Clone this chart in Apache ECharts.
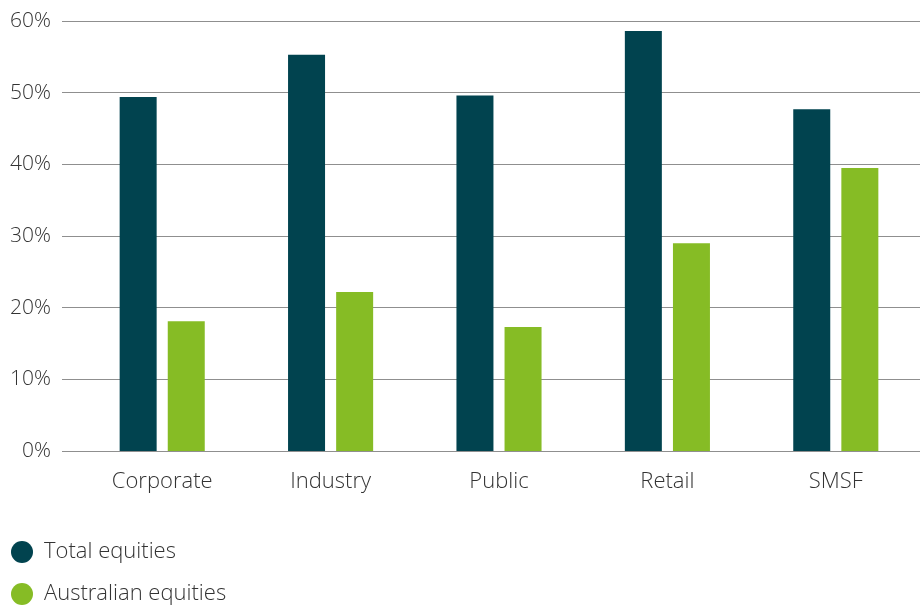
<!DOCTYPE html>
<html>
<head>
<meta charset="utf-8">
<script src="https://cdn.jsdelivr.net/npm/echarts@6/dist/echarts.min.js"></script>
<style>
html,body{margin:0;padding:0;background:#fff;}
#chart{width:920px;height:605px;}
</style>
</head>
<body>
<div id="chart"></div>
<script>
const categories = ['Corporate', 'Industry', 'Public', 'Retail', 'SMSF'];
const totalEquities = [49.4, 55.3, 49.6, 58.6, 47.7];
const australianEquities = [18.1, 22.2, 17.3, 29.0, 39.5];
const seriesNames = ['Total equities', 'Australian equities'];
const yMin = 0, yMax = 60, yStep = 10;

const font = '"Open Sans", "Noto Sans", sans-serif';
const textColor = '#333333';
const legendBase = {
  orient: 'vertical',
  left: 6,
  itemWidth: 22,
  itemHeight: 22,
  icon: 'circle',
  textStyle: { fontFamily: font, fontSize: 22, color: textColor, fontWeight: 300, padding: [0, 0, 0, 6] }
};
const chart = echarts.init(document.getElementById('chart'));
chart.setOption({
  animation: false,
  backgroundColor: '#ffffff',
  textStyle: { fontFamily: font },
  grid: [
    { left: 62, width: 858, top: 21, bottom: 154, containLabel: false },
    { left: 78, width: 843, top: 21, bottom: 154, containLabel: false }
  ],
  legend: [
    Object.assign({}, legendBase, { top: 536, data: [seriesNames[0]] }),
    Object.assign({}, legendBase, { top: 578, data: [seriesNames[1]] })
  ],
  xAxis: [
    { type: 'category', gridIndex: 0, data: categories, show: false },
    {
      type: 'category', gridIndex: 1, data: categories,
      axisLine: { show: false }, axisTick: { show: false },
      axisLabel: { margin: 20, fontSize: 22, color: textColor, fontFamily: font, fontWeight: 300 }
    }
  ],
  yAxis: [
    {
      type: 'value', gridIndex: 0, min: yMin, max: yMax, interval: yStep,
      axisLine: { show: false }, axisTick: { show: false },
      axisLabel: { formatter: '{value}%', margin: 11, fontSize: 21, color: textColor, fontFamily: font, fontWeight: 300 },
      splitLine: { lineStyle: { color: '#8f8f8f', width: 1 } }
    },
    {
      type: 'value', gridIndex: 1, min: yMin, max: yMax, interval: yStep, show: false,
      splitLine: { show: false }
    }
  ],
  series: [
    {
      name: seriesNames[0], type: 'bar', xAxisIndex: 1, yAxisIndex: 1,
      data: totalEquities, barWidth: 37, barGap: '30%',
      itemStyle: { color: '#01434f' }
    },
    {
      name: seriesNames[1], type: 'bar', xAxisIndex: 1, yAxisIndex: 1,
      data: australianEquities, barWidth: 37, barGap: '30%',
      itemStyle: { color: '#86bc25' }
    }
  ]
});
</script>
</body>
</html>
